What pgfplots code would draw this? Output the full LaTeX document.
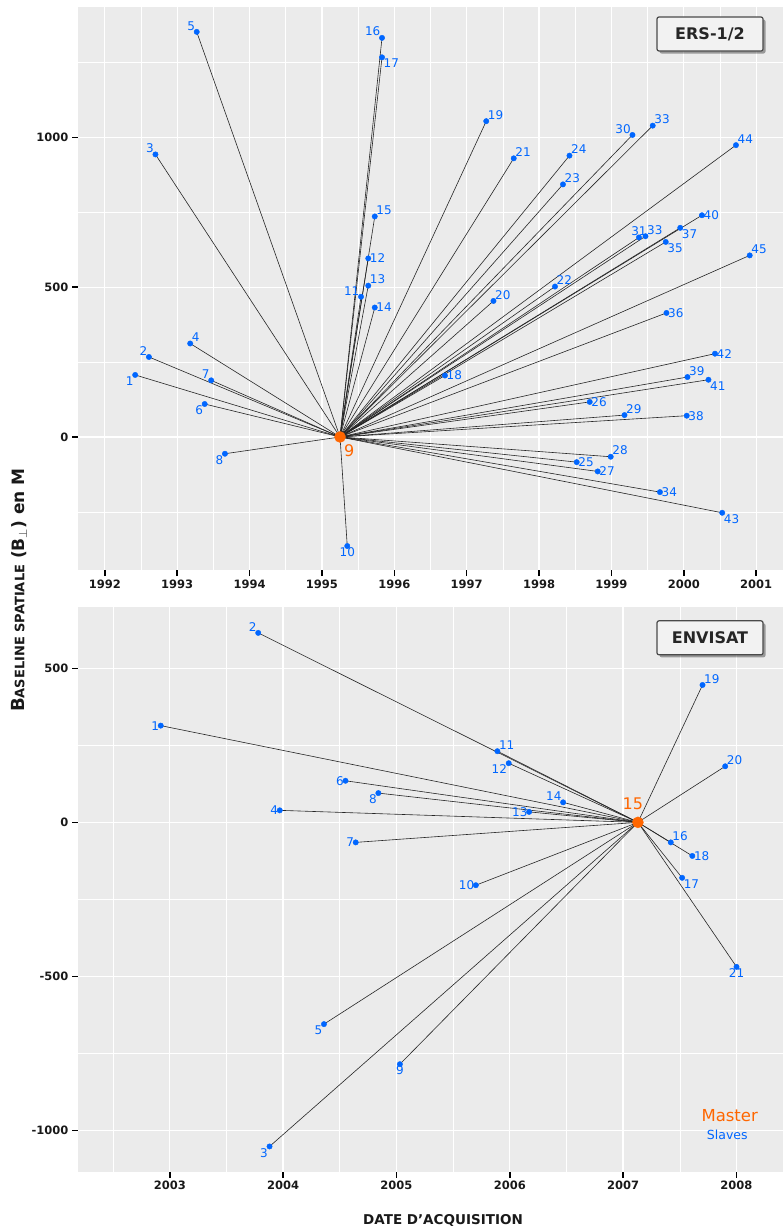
\documentclass[border=0pt]{standalone}
\usepackage{pgfplots}
\pgfplotsset{compat=1.18}
\usepackage{pgfplotstable}
\usepackage{fontspec}
\setmainfont{DejaVu Sans}
\usetikzlibrary{shadows}
\definecolor{bgcol}{HTML}{EBEBEB}
\definecolor{slblue}{HTML}{0066FF}
\definecolor{morange}{HTML}{FF6600}
\definecolor{boxfill}{HTML}{F2F2F2}
\definecolor{boxdraw}{HTML}{4A4A4A}

\pgfplotstableread{
x y lab pos
1992.42 207 1 {north east}
1992.61 267 2 {south east}
1992.70 943 3 {south east}
1993.18 312 4 {south west}
1993.27 1352 5 {south east}
1993.38 110 6 {north east}
1993.47 189 7 {south east}
1993.66 -56 8 {north east}
1995.35 -364 10 {north}
1995.54 468 11 {south east}
1995.64 596 12 {west}
1995.64 505 13 {south west}
1995.73 432 14 {west}
1995.73 736 15 {south west}
1995.83 1332 16 {south east}
1995.83 1267 17 {north west}
1996.70 205 18 {west}
1997.27 1054 19 {south west}
1997.37 454 20 {south west}
1997.65 930 21 {south west}
1998.22 502 22 {south west}
1998.33 843 23 {south west}
1998.42 939 24 {south west}
1998.52 -84 25 {west}
1998.70 117 26 {west}
1998.81 -115 27 {west}
1998.99 -66 28 {south west}
1999.18 73 29 {south west}
1999.29 1008 30 {south east}
1999.38 666 31 {south}
1999.47 670 33 {south west}
1999.57 1039 33 {south west}
1999.67 -184 34 {west}
1999.75 651 35 {north west}
1999.76 414 36 {west}
1999.95 698 37 {north west}
2000.04 71 38 {west}
2000.05 200 39 {south west}
2000.25 740 40 {west}
2000.34 191 41 {north west}
2000.43 278 42 {west}
2000.53 -253 43 {north west}
2000.72 974 44 {south west}
2000.91 606 45 {south west}
}\ersdata

\pgfplotstableread{
x y lab
1995.25 0 9
}\ersmaster

\pgfplotstableread{
x y lab pos
2002.92 314 1 {east}
2003.78 615 2 {south east}
2003.88 -1052 3 {north east}
2003.97 39 4 {east}
2004.36 -655 5 {north east}
2004.55 135 6 {east}
2004.64 -65 7 {east}
2004.84 95 8 {north east}
2005.03 -785 9 {north}
2005.70 -204 10 {east}
2005.89 231 11 {south west}
2005.99 192 12 {north east}
2006.17 34 13 {east}
2006.47 65 14 {south east}
2007.42 -65 16 {south west}
2007.52 -180 17 {north west}
2007.61 -109 18 {west}
2007.70 446 19 {south west}
2007.90 182 20 {south west}
2008.00 -469 21 {north}
}\envdata

\pgfplotstableread{
x y lab
2007.13 0 15
}\envmaster

\pgfplotsset{
  myaxis/.style={
    scale only axis, width=705pt,
    axis background/.style={fill=bgcol},
    axis line style={draw=none},
    grid=both,
    major grid style={white, line width=1.3pt},
    minor grid style={white, line width=0.7pt},
    tick align=outside,
    major tick length=6pt,
    minor tick length=0pt,
    major tick style={black, line width=1.6pt},
    minor tick style={draw=none},
    tick pos=left,
    tick label style={font=\bfseries\fontsize{11.5}{12}\selectfont, text=black!90},
    /pgf/number format/1000 sep={},
    /pgf/number format/assume math mode=true,
    clip=false,
  },
  slaves/.style={
    only marks, mark=*, mark size=2.7pt, color=slblue,
    every node near coord/.append style={inner sep=1.5pt,
      font=\fontsize{12}{12}\selectfont, text=slblue},
  },
  links/.style={black!85, line width=0.6pt},
}

% draw star links and labelled slave points from a table
\newcommand\drawstar[3]{% table, master x, master y
  \pgfplotstablegetrowsof{#1}%
  \pgfmathtruncatemacro{\nlast}{\pgfplotsretval-1}%
  \pgfplotsforeachungrouped \i in {0,...,\nlast}{%
    \pgfplotstablegetelem{\i}{x}\of#1\let\xx\pgfplotsretval
    \pgfplotstablegetelem{\i}{y}\of#1\let\yy\pgfplotsretval
    \edef\cmd{\noexpand\addplot[links] coordinates {(#2,#3) (\xx,\yy)};}\cmd
  }%
  \pgfplotsforeachungrouped \i in {0,...,\nlast}{%
    \pgfplotstablegetelem{\i}{x}\of#1\let\xx\pgfplotsretval
    \pgfplotstablegetelem{\i}{y}\of#1\let\yy\pgfplotsretval
    \pgfplotstablegetelem{\i}{lab}\of#1\let\lbl\pgfplotsretval
    \pgfplotstablegetelem{\i}{pos}\of#1\let\apos\pgfplotsretval
    \edef\cmd{\noexpand\addplot[slaves, nodes near coords={\lbl},
      nodes near coords style={anchor=\apos}] coordinates {(\xx,\yy)};}\cmd
  }%
}

\begin{document}
\begin{tikzpicture}
\useasboundingbox (0,0) rectangle (783pt,-1229pt);

% ---------------- ERS-1/2 ----------------
\begin{axis}[myaxis, at={(78pt,-6.7pt)}, anchor=north west, height=563.3pt,
  xmin=1991.63, xmax=2001.37, ymin=-444, ymax=1436,
  xtick={1992,1993,...,2001}, minor xtick={1992.5,1993.5,...,2000.5},
  ytick={0,500,1000}, minor ytick={-250,250,750,1250}]
\drawstar{\ersdata}{1995.25}{0}
\addplot[only marks, mark=*, mark size=5.5pt, color=morange,
  nodes near coords, point meta=explicit symbolic,
  every node near coord/.append style={anchor=north west, inner sep=0pt, xshift=4pt, yshift=-7pt,
    font=\fontsize{16}{16}\selectfont, text=morange}]
  table[x=x,y=y,meta=lab] {\ersmaster};
\end{axis}

% ---------------- ENVISAT ----------------
\begin{axis}[myaxis, at={(78pt,-606.7pt)}, anchor=north west, height=565pt,
  xmin=2002.19, xmax=2008.41, ymin=-1134, ymax=700,
  xtick={2003,2004,...,2008}, minor xtick={2002.5,2003.5,...,2007.5},
  ytick={-1000,-500,0,500}, minor ytick={-750,-250,250}]
\drawstar{\envdata}{2007.13}{0}
\addplot[only marks, mark=*, mark size=5.5pt, color=morange,
  nodes near coords, point meta=explicit symbolic,
  every node near coord/.append style={anchor=south, inner sep=0pt, xshift=-5pt, yshift=12pt,
    font=\fontsize{16}{16}\selectfont, text=morange}]
  table[x=x,y=y,meta=lab] {\envmaster};
\end{axis}

% boxes
\node[draw=boxdraw, line width=1.2pt, fill=boxfill, rounded corners=2pt,
  minimum width=106pt, minimum height=34pt,
  drop shadow={shadow xshift=2.5pt, shadow yshift=-2.5pt, opacity=0.35, fill=black},
  font=\bfseries\fontsize{16}{16}\selectfont, text=black!85] at (710pt,-34pt) {ERS-1/2};
\node[draw=boxdraw, line width=1.2pt, fill=boxfill, rounded corners=2pt,
  minimum width=106pt, minimum height=34pt,
  drop shadow={shadow xshift=2.5pt, shadow yshift=-2.5pt, opacity=0.35, fill=black},
  font=\bfseries\fontsize{16}{16}\selectfont, text=black!85] at (710pt,-637.8pt) {ENVISAT};

% legend text
\node[text=morange, font=\fontsize{16.5}{17}\selectfont, inner sep=0pt] at (729.7pt,-1115.7pt) {Master};
\node[text=slblue, font=\fontsize{12.5}{13}\selectfont, inner sep=0pt] at (727.3pt,-1135.3pt) {Slaves};

% axis titles
\node[rotate=90, font=\bfseries, text=black!90, inner sep=0pt] at (19pt,-590pt)
  {{\fontsize{18}{18}\selectfont B}{\fontsize{13}{13}\selectfont ASELINE SPATIALE}\fontsize{17}{17}\selectfont\ (B$_{\perp}$) en M};
\node[font=\bfseries\fontsize{13.5}{14}\selectfont, text=black!90, inner sep=0pt] at (443pt,-1220.7pt)
  {DATE D’ACQUISITION};
\end{tikzpicture}
\end{document}
